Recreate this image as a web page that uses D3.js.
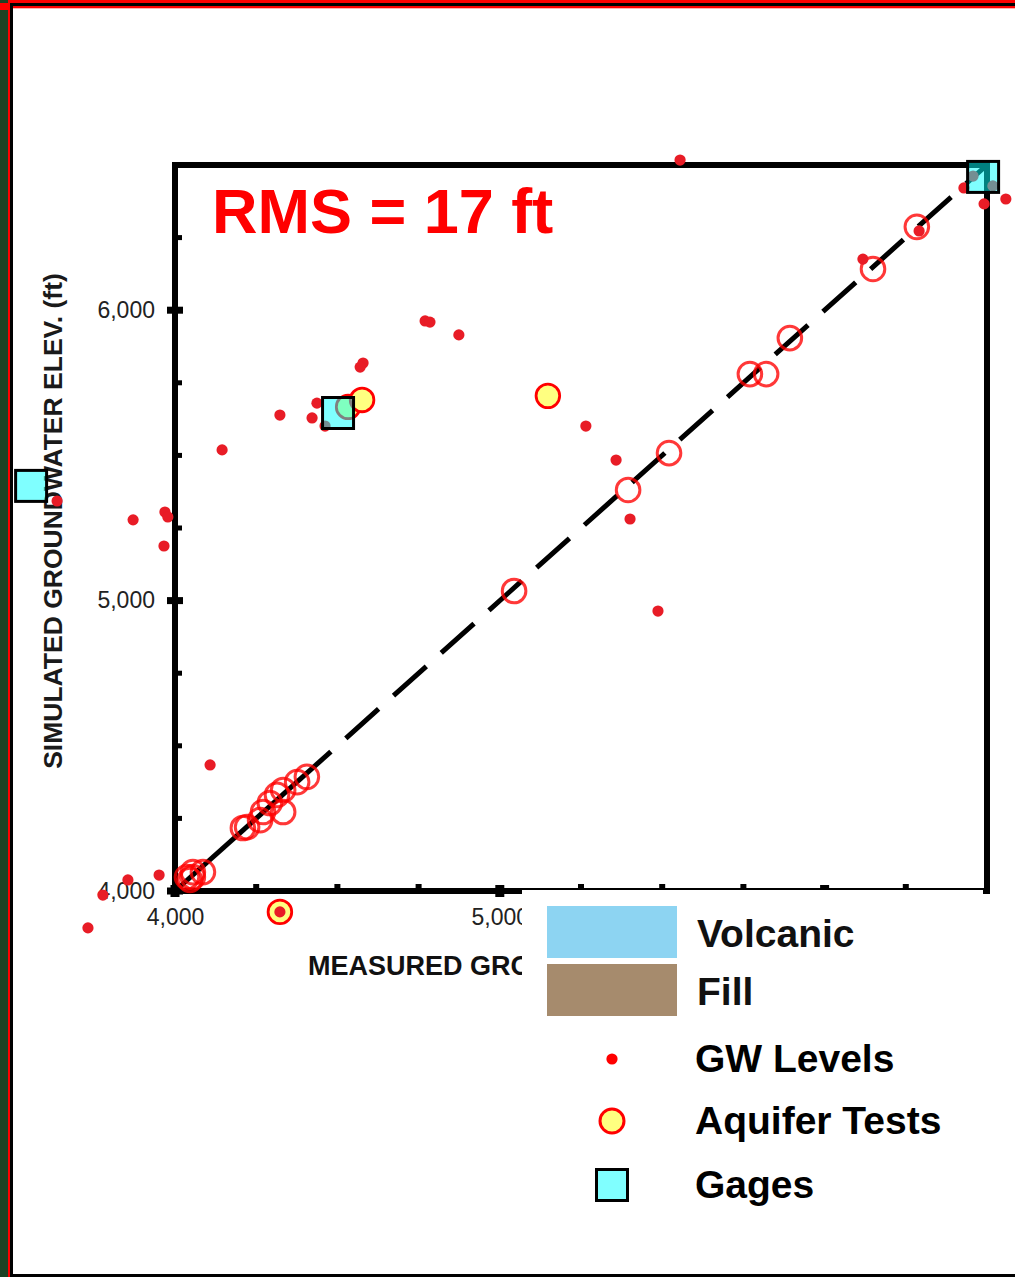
<!DOCTYPE html>
<html>
<head>
<meta charset="utf-8">
<script src="https://cdn.jsdelivr.net/npm/d3@7"></script>
<style>
  body { margin: 0; background: #fff; }
  svg { display: block; }
</style>
</head>
<body>
<script>
// measured vs simulated groundwater elevation (ft)

// GW levels (small red dots): [measured, simulated]
var gwLevels = [
  [5555, 6517], [6429, 6421], [6491, 6366], [6558, 6383], [6118, 6176],
  [6291, 6273], [4770, 5963], [4785, 5959], [4874, 5915], [4579, 5818],
  [4570, 5804], [4323, 5639], [4437, 5680], [4422, 5629], [4462, 5601],
  [4145, 5519], [5265, 5601], [5358, 5484], [5401, 5281], [5487, 4964],
  [3871, 5278], [3969, 5305], [3978, 5288], [3637, 5343], [3966, 5188],
  [4108, 4434], [3951, 4055], [3855, 4038], [3778, 3986], [3732, 3873],
  [4323, 3928], [6457, 6462], [6518, 6428]
];

// open red circles along the 1:1 line
var wellTargets = [
  [6284, 6287], [6149, 6142], [5893, 5904], [5820, 5780], [5770, 5780],
  [5521, 5508], [5395, 5381], [5044, 5033],
  [4406, 4393], [4376, 4375], [4333, 4348], [4314, 4331], [4292, 4303],
  [4333, 4272], [4271, 4272], [4262, 4244], [4222, 4220], [4209, 4217],
  [4086, 4065], [4055, 4065], [4055, 4048], [4046, 4038], [4037, 4048]
];

// aquifer tests (yellow circles)
var aquiferTests = [
  [4533, 5667], [4576, 5691], [5148, 5705], [4323, 3928]
];

// gages (cyan squares)
var gages = [
  [6488, 6459], [4502, 5646], [3557, 5395]
];

var majorTicks = [4000, 5000, 6000];
var minorTicks = [4250, 4500, 4750, 5250, 5500, 5750, 6250];
var xLabelTicks = [4000, 5000];   // 6,000 sits under the pasted legend
var domainMin = 4000, domainMax = 6500;
var dashStart = 4480;

var swatchLabels = ["Volcanic", "Fill"];
var swatchColors = ["#8dd4f2", "#a68b6d"];
var symbolLabels = ["GW Levels", "Aquifer Tests", "Gages"];

var width = 1015, height = 1277;
var font = "Liberation Sans, Arial, sans-serif";

var svg = d3.select("body").append("svg")
    .attr("width", width)
    .attr("height", height);

svg.append("rect")
   .attr("width", width)
   .attr("height", height)
   .attr("fill", "#fff");

// outer slide frame
svg.append("rect").attr("x", 0).attr("y", 0).attr("width", width).attr("height", 3).attr("fill", "#ff0000");
svg.append("rect").attr("x", 0).attr("y", 3).attr("width", width).attr("height", 3).attr("fill", "#000");
svg.append("rect").attr("x", 0).attr("y", 6).attr("width", width).attr("height", 2).attr("fill", "#ff0000");
svg.append("rect").attr("x", 0).attr("y", 8).attr("width", width).attr("height", 1).attr("fill", "#ffb0b0");
svg.append("rect").attr("x", 0).attr("y", 0).attr("width", 8).attr("height", height).attr("fill", "#1d4224");
svg.append("rect").attr("x", 0).attr("y", 3).attr("width", 8).attr("height", 7).attr("fill", "#ff0000");
svg.append("rect").attr("x", 8).attr("y", 0).attr("width", 2).attr("height", height).attr("fill", "#ff0000");
svg.append("rect").attr("x", 10).attr("y", 6).attr("width", 3).attr("height", height).attr("fill", "#000");
svg.append("rect").attr("x", 10).attr("y", 1274).attr("width", width).attr("height", 3).attr("fill", "#000");

var x = d3.scaleLinear().domain([domainMin, domainMax]).range([175, 987]);
var y = d3.scaleLinear().domain([domainMin, domainMax]).range([891, 165]);

// 1:1 line, solid at the low end then dashed
svg.append("line")
   .attr("x1", x(domainMin)).attr("y1", y(domainMin))
   .attr("x2", x(dashStart)).attr("y2", y(dashStart))
   .attr("stroke", "#000").attr("stroke-width", 5);
svg.append("line")
   .attr("x1", x(dashStart)).attr("y1", y(dashStart))
   .attr("x2", x(domainMax)).attr("y2", y(domainMax))
   .attr("stroke", "#000").attr("stroke-width", 5)
   .attr("stroke-dasharray", "44,20")
   .attr("stroke-dashoffset", -20);

// plot frame
svg.append("rect")
   .attr("x", x(domainMin)).attr("y", y(domainMax))
   .attr("width", x(domainMax) - x(domainMin))
   .attr("height", y(domainMin) - y(domainMax))
   .attr("fill", "none").attr("stroke", "#000").attr("stroke-width", 6);

// tick marks
svg.selectAll(".ytick-minor").data(minorTicks).enter().append("rect")
   .attr("x", x(domainMin) - 3).attr("y", function(d) { return y(d) - 2.5; })
   .attr("width", 10).attr("height", 5).attr("fill", "#000");
svg.selectAll(".ytick-major").data(majorTicks).enter().append("rect")
   .attr("x", x(domainMin) - 8).attr("y", function(d) { return y(d) - 3.5; })
   .attr("width", 16).attr("height", 7).attr("fill", "#000");
svg.selectAll(".xtick-minor").data(minorTicks).enter().append("rect")
   .attr("x", function(d) { return x(d) - 3; }).attr("y", y(domainMin) - 7)
   .attr("width", 6).attr("height", 9).attr("fill", "#000");
svg.selectAll(".xtick-major").data(majorTicks).enter().append("rect")
   .attr("x", function(d) { return x(d) - 4.5; }).attr("y", y(domainMin) - 6)
   .attr("width", 9).attr("height", 12).attr("fill", "#000");

// tick labels
var fmt = d3.format(",");
var yAxis = svg.append("g")
   .attr("transform", "translate(" + x(domainMin) + ",0)")
   .call(d3.axisLeft(y).tickValues(majorTicks).tickFormat(fmt).tickSize(0).tickPadding(20));
var xAxis = svg.append("g")
   .attr("transform", "translate(0," + y(domainMin) + ")")
   .call(d3.axisBottom(x).tickValues(xLabelTicks).tickFormat(fmt).tickSize(0).tickPadding(18));
[yAxis, xAxis].forEach(function(g) {
  g.select(".domain").remove();
  g.selectAll("text")
   .attr("fill", "#222")
   .style("font-family", font)
   .style("font-size", "23px");
});

// axis titles
svg.append("text")
   .attr("transform", "translate(62,521) rotate(-90)")
   .attr("text-anchor", "middle")
   .attr("fill", "#1a1a1a")
   .style("font-family", font)
   .style("font-weight", "bold")
   .style("font-size", "26.5px")
   .text("SIMULATED GROUNDWATER ELEV. (ft)");

// the x title runs under the pasted legend; clip it at the legend edge
svg.append("clipPath").attr("id", "xtitle-clip")
   .append("rect").attr("x", 0).attr("y", 930).attr("width", 522).attr("height", 80);
svg.append("text")
   .attr("x", 308).attr("y", 975)
   .attr("clip-path", "url(#xtitle-clip)")
   .attr("fill", "#111")
   .style("font-family", font)
   .style("font-weight", "bold")
   .style("font-size", "27px")
   .text("MEASURED GROUNDWATER ELEV. (ft)");

// marks
svg.selectAll(".target").data(wellTargets).enter().append("circle")
   .attr("cx", function(d) { return x(d[0]); })
   .attr("cy", function(d) { return y(d[1]); })
   .attr("r", 11.8)
   .attr("fill", "none")
   .attr("stroke", "#ff0000").attr("stroke-opacity", 0.78)
   .attr("stroke-width", 3);

svg.selectAll(".aquifer").data(aquiferTests).enter().append("circle")
   .attr("cx", function(d) { return x(d[0]); })
   .attr("cy", function(d) { return y(d[1]); })
   .attr("r", 11.8)
   .attr("fill", "#ffff80")
   .attr("stroke", "#ff0000")
   .attr("stroke-width", 2.8);

svg.selectAll(".gw").data(gwLevels).enter().append("circle")
   .attr("cx", function(d) { return x(d[0]); })
   .attr("cy", function(d) { return y(d[1]); })
   .attr("r", 5.6)
   .attr("fill", "#e81c26");

svg.selectAll(".gage").data(gages).enter().append("rect")
   .attr("x", function(d) { return x(d[0]) - 15.5; })
   .attr("y", function(d) { return y(d[1]) - 15.5; })
   .attr("width", 31).attr("height", 31)
   .attr("fill", "#00ffff").attr("fill-opacity", 0.5)
   .attr("stroke", "#000").attr("stroke-width", 3);

svg.append("text")
   .attr("x", 212).attr("y", 233)
   .attr("fill", "#ff0000")
   .style("font-family", font)
   .style("font-weight", "bold")
   .style("font-size", "63px")
   .text("RMS = 17 ft");

// legend: pasted box with unit swatches
svg.append("rect")
   .attr("x", 522).attr("y", 890)
   .attr("width", 461).attr("height", 132)
   .attr("fill", "#fff");

var sw = svg.selectAll(".swatch").data(swatchLabels).enter().append("g")
   .attr("transform", function(d, i) { return "translate(547," + (906 + i * 58) + ")"; });
sw.append("rect")
   .attr("width", 130).attr("height", 52)
   .attr("fill", function(d, i) { return swatchColors[i]; });
sw.append("text")
   .attr("x", 150).attr("y", 41)
   .attr("fill", "#111")
   .style("font-family", font)
   .style("font-weight", "bold")
   .style("font-size", "39px")
   .text(function(d) { return d; });

var leg = svg.selectAll(".legsym").data(symbolLabels).enter().append("g")
   .attr("transform", function(d, i) { return "translate(612," + [1059, 1121, 1185][i] + ")"; });
leg.append("text")
   .attr("x", 83).attr("y", 13)
   .attr("fill", "#000")
   .style("font-family", font)
   .style("font-weight", "bold")
   .style("font-size", "39px")
   .text(function(d) { return d; });
leg.filter(function(d, i) { return i === 0; }).append("circle")
   .attr("r", 5.6).attr("fill", "#ff0000");
leg.filter(function(d, i) { return i === 1; }).append("circle")
   .attr("r", 12).attr("fill", "#ffff80")
   .attr("stroke", "#ff0000").attr("stroke-width", 3);
leg.filter(function(d, i) { return i === 2; }).append("rect")
   .attr("x", -15.5).attr("y", -15.5).attr("width", 31).attr("height", 31)
   .attr("fill", "#80ffff").attr("stroke", "#000").attr("stroke-width", 3);
</script>
</body>
</html>
